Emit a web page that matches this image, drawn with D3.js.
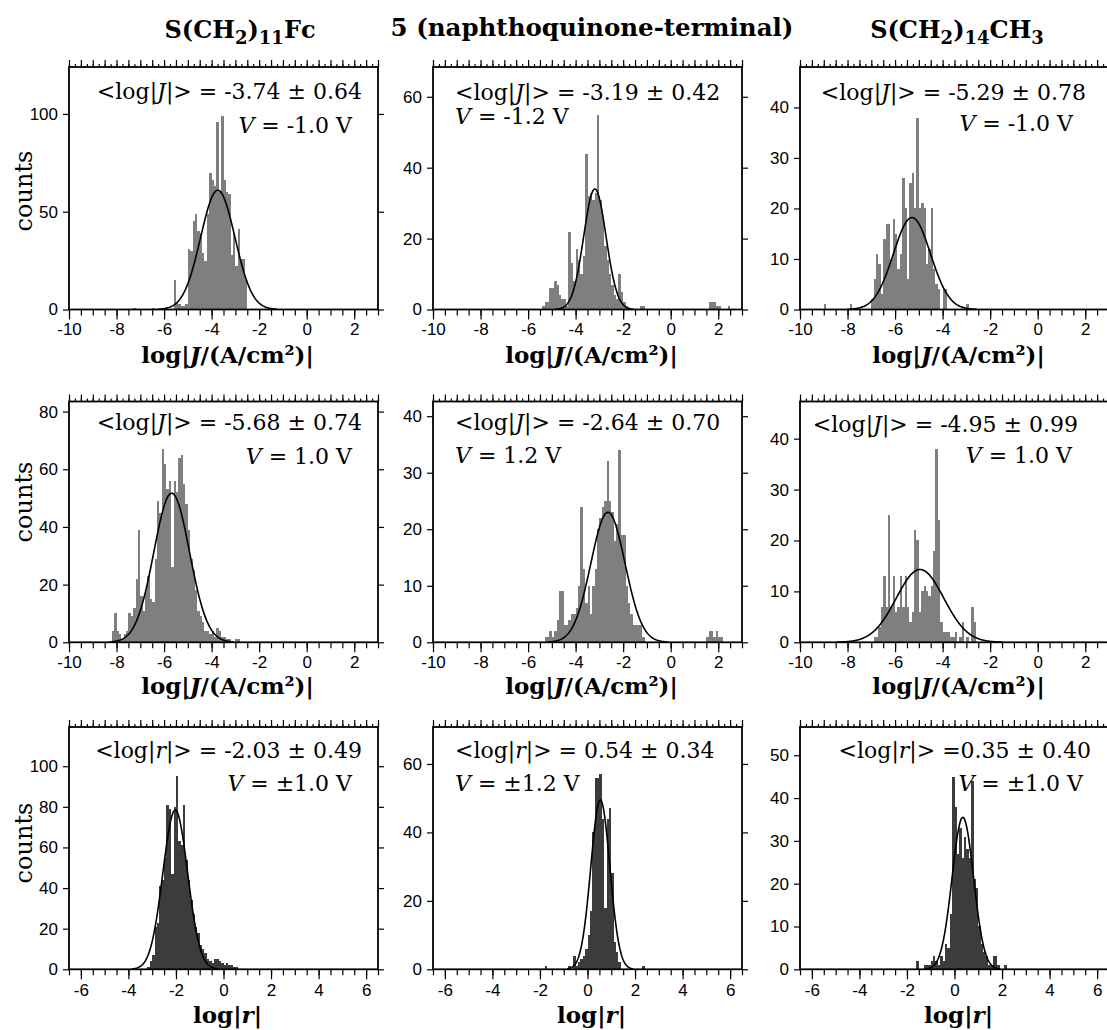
<!DOCTYPE html>
<html>
<head>
<meta charset="utf-8">
<title>log|J| and log|r| histograms</title>
<script src="https://cdn.jsdelivr.net/npm/d3@7"></script>
<style>
  body { margin: 0; background: #fff; }
</style>
</head>
<body>
<svg id="chart" width="1107" height="1030"></svg>
<script>
/* histogram bins are 0.1 wide; each counts array starts at the given left edge */
var binWidth = 0.1;

/* top row: log|J| at negative bias */
var fcNegStart = -7.3;
var fcNegCounts = [1,0,0,0,0,0,0,0,1,0,0,0,0,0,0,0,0,15,4,3,2,2,3,
  31,30,45,49,40,39,29,25,49,70,66,63,96,60,99,66,60,59,28,39,22,41,26,26,15];

var nqNegStart = -5.4;
var nqNegCounts = [1,2,2,6,6,8,7,4,3,3,1,22,13,8,17,14,10,15,44,32,33,31,33,55,31,26,18,14,10,7,4,3,10,5,2,1,
  0,0,0,0,0,1,1,
  0,0,0,0,0,0,0,0,0,0,0,0,0,0,0,0,0,0,0,0,0,0,0,0,0,0,0,
  2,2,2,1,1,0,0,0,1];

var c15NegStart = -9.0;
var c15NegCounts = [1,0,0,0,0,0,0,0,0,0,0,1,0,0,0,0,0,0,0,0,
  2,6,11,9,3,14,17,17,10,18,15,8,11,26,20,6,25,27,20,38,20,21,20,9,12,20,8,5,4,0,4,4,
  0,0,0,0,0,0,0,0,1];

/* middle row: log|J| at positive bias */
var fcPosStart = -8.2;
var fcPosCounts = [4,10,4,3,1,3,4,10,9,12,22,39,16,11,18,23,15,14,29,49,45,67,62,53,56,26,
  56,52,64,65,55,48,39,29,25,18,11,9,7,4,4,3,4,2,5,4,2,2,1,1,0,0,1,1];

var nqPosStart = -5.3;
var nqPosCounts = [1,1,2,1,2,4,9,9,3,3,4,5,5,6,10,24,13,7,10,5,10,13,20,22,24,25,32,25,23,18,21,34,19,19,10,7,5,3,3,3,3,1,
  0,0,0,0,0,0,0,0,0,0,0,0,0,0,0,0,0,0,0,0,0,0,0,0,0,0,
  1,2,2,1,2,1,1];

var c15PosStart = -6.9;
var c15PosCounts = [1,1,3,7,13,7,25,7,13,6,7,13,7,13,7,4,6,22,20,6,10,11,10,9,11,18,38,24,
  4,2,2,2,1,1,2,0,1,4,0,1,0,7,4];

/* bottom row: log|r| */
var fcRectStart = -3.2;
var fcRectCounts = [1,4,7,21,23,41,44,55,81,79,47,80,95,63,61,81,54,44,34,27,21,18,12,10,8,5,4,3,5,5,4,3,2,3,2,2,1,1];

var nqRectStart = -1.8;
var nqRectCounts = [1,0,0,0,0,0,0,0,0,0,1,0,4,1,2,3,4,6,10,17,40,56,56,57,44,18,44,47,28,8,5,2,
  0,0,0,0,0,0,0,0,0,1];

var c15RectStart = -1.6;
var c15RectCounts = [2,0,0,1,1,1,2,3,2,1,3,2,6,5,13,45,38,27,33,26,31,28,26,44,21,19,10,6,4,3,1,1,3,3,1,0,0,1];

/* gaussian fit curves */
var fitMeans  = [-3.74, -3.19, -5.29, -5.68, -2.64, -4.95, -2.03, 0.54, 0.35];
var fitSigmas = [0.72, 0.47, 0.78, 0.75, 0.72, 1.0, 0.52, 0.40, 0.45];
var fitPeaks  = [61, 34, 18.2, 51.7, 23, 14.3, 78.4, 49.5, 35.5];

/* annotation text */
var statTexts = ["= -3.74 ± 0.64", "= -3.19 ± 0.42", "= -5.29 ± 0.78",
                 "= -5.68 ± 0.74", "= -2.64 ± 0.70", "= -4.95 ± 0.99",
                 "= -2.03 ± 0.49", "= 0.54 ± 0.34", "=0.35 ± 0.40"];
var biasTexts = ["-1.0", "-1.2", "-1.0", "1.0", "1.2", "1.0", "±1.0", "±1.2", "±1.0"];

/* axes */
var countMax = [124, 68.4, 48, 83.5, 42.6, 47.3, 119.3, 70.8, 56.6];
var countTicks = [[0,50,100],[0,20,40,60],[0,10,20,30,40],
                  [0,20,40,60,80],[0,10,20,30,40],[0,10,20,30,40],
                  [0,20,40,60,80,100],[0,20,40,60],[0,10,20,30,40,50]];
var jTicks = [-10,-8,-6,-4,-2,0,2];
var rTicks = [-6,-4,-2,0,2,4,6];

/* column titles as [text, isSubscript] pieces */
var titleFc  = [["S(CH",0],["2",1],[")",0],["11",1],["Fc",0]];
var titleNq  = [["5 (naphthoquinone-terminal)",0]];
var titleC15 = [["S(CH",0],["2",1],[")",0],["14",1],["CH",0],["3",1]];

/* ---------- layout ---------- */
var colLeft = [69, 433, 800];
var plotW = 309;
var rowTop = [67, 401.5, 727];
var rowBottom = [309.5, 642.3, 969.3];
var tickLabelY = [25, 26, 27];
var axisTitleY = [53.5, 52, 54];
var countsY = [191, 502, 843];
// [anchor, dx line1, dy line1, dx line2, dy line2] from panel top-left
var notePos = [["end",293,32,283,66], ["start",22,33,22,57], ["end",286,33,273,64],
               ["end",293,28.5,283,62.5], ["start",22,28.5,22,61.5], ["end",278,30.5,272,61.5],
               ["end",293,31,283,64], ["start",22,31,22,64], ["end",291,31,283,64]];

var serif = "'DejaVu Serif', serif";
var sans = "'Liberation Sans', Arial, sans-serif";

var svg = d3.select("#chart");

var starts = [fcNegStart, nqNegStart, c15NegStart, fcPosStart, nqPosStart, c15PosStart,
              fcRectStart, nqRectStart, c15RectStart];
var counts = [fcNegCounts, nqNegCounts, c15NegCounts, fcPosCounts, nqPosCounts, c15PosCounts,
              fcRectCounts, nqRectCounts, c15RectCounts];

function drawPanel(i) {
  var row = Math.floor(i / 3), col = i % 3;
  var left = colLeft[col], right = left + plotW;
  var top = rowTop[row], bottom = rowBottom[row];
  var isR = row === 2;

  var x = d3.scaleLinear().domain(isR ? [-6.5, 6.5] : [-10, 3]).range([left, right]);
  var y = d3.scaleLinear().domain([0, countMax[i]]).range([bottom, top]);
  var g = svg.append("g");

  // bars
  var bins = counts[i].map(function(c, k) {
    return { x0: starts[i] + k * binWidth, c: c };
  }).filter(function(d) { return d.c > 0; });

  g.selectAll("rect.bar").data(bins).enter().append("rect")
    .attr("class", "bar")
    .attr("x", function(d) { return x(d.x0); })
    .attr("width", function(d) { return x(d.x0 + binWidth) - x(d.x0); })
    .attr("y", function(d) { return y(d.c); })
    .attr("height", function(d) { return y(0) - y(d.c); })
    .attr("fill", isR ? "#3c3c3c" : "#7f7f7f")
    .attr("shape-rendering", "crispEdges");

  // gaussian fit
  var m = fitMeans[i], s = fitSigmas[i], p = fitPeaks[i];
  var xs = d3.range(m - 3.5 * s, m + 3.5 * s, 0.02);
  var line = d3.line()
    .x(function(v) { return x(v); })
    .y(function(v) { return y(p * Math.exp(-0.5 * Math.pow((v - m) / s, 2))); });
  g.append("path").datum(xs)
    .attr("d", line)
    .attr("fill", "none")
    .attr("stroke", "#000")
    .attr("stroke-width", 1.6);

  // frame
  g.append("rect")
    .attr("x", left).attr("y", top)
    .attr("width", plotW).attr("height", bottom - top)
    .attr("fill", "none").attr("stroke", "#000").attr("stroke-width", 1.8);

  var lo = x.domain()[0], hi = x.domain()[1];
  var majors = isR ? rTicks : jTicks;

  function styleAxis(a) {
    a.select(".domain").remove();
    a.selectAll("line").attr("stroke", "#000").attr("stroke-width", 1.2);
    a.attr("font-family", sans).attr("font-size", 17);
  }

  // bottom: minor every 0.5, major labelled every 2
  g.append("g").attr("transform", "translate(0," + bottom + ")")
    .call(d3.axisBottom(x).tickValues(d3.range(lo, hi + 0.01, 0.5)).tickSize(6).tickFormat(""))
    .call(styleAxis);
  var bx = g.append("g").attr("transform", "translate(0," + bottom + ")")
    .call(d3.axisBottom(x).tickValues(majors).tickSize(10)
      .tickFormat(function(d) { return String(d); }))
    .call(styleAxis);
  bx.selectAll("text").attr("y", tickLabelY[row]).attr("dy", 0);

  // top: ticks every 0.25, taller on the half units
  g.append("g").attr("transform", "translate(0," + top + ")")
    .call(d3.axisTop(x).tickValues(d3.range(lo, hi + 0.01, 0.25)).tickSize(3).tickFormat(""))
    .call(styleAxis);
  g.append("g").attr("transform", "translate(0," + top + ")")
    .call(d3.axisTop(x).tickValues(d3.range(lo, hi + 0.01, 0.5)).tickSize(7).tickFormat(""))
    .call(styleAxis);

  // left and right
  g.append("g").attr("transform", "translate(" + left + ",0)")
    .call(d3.axisLeft(y).tickValues(countTicks[i]).tickSize(6).tickPadding(5))
    .call(styleAxis);
  g.append("g").attr("transform", "translate(" + right + ",0)")
    .call(d3.axisRight(y).tickValues(countTicks[i]).tickSize(6).tickFormat(""))
    .call(styleAxis);

  // x axis title
  var xt = g.append("text")
    .attr("x", (left + right) / 2 + 4)
    .attr("y", bottom + axisTitleY[row])
    .attr("text-anchor", "middle")
    .attr("font-family", serif).attr("font-weight", "bold").attr("font-size", 23);
  xt.append("tspan").text("log|");
  xt.append("tspan").attr("font-style", "italic").text(isR ? "r" : "J");
  xt.append("tspan").text(isR ? "|" : "/(A/cm²)|");

  // counts label
  if (col === 0) {
    g.append("text")
      .attr("transform", "translate(32," + countsY[row] + ") rotate(-90)")
      .attr("text-anchor", "middle")
      .attr("font-family", serif).attr("font-size", 24)
      .text("counts");
  }

  // annotation
  var np = notePos[i];
  var t1 = g.append("text")
    .attr("x", left + np[1]).attr("y", top + np[2])
    .attr("text-anchor", np[0])
    .attr("font-family", serif).attr("font-size", 22);
  t1.append("tspan").text("<log|");
  t1.append("tspan").attr("font-style", "italic").text(isR ? "r" : "J");
  t1.append("tspan").text("|> " + statTexts[i]);

  var t2 = g.append("text")
    .attr("x", left + np[3]).attr("y", top + np[4])
    .attr("text-anchor", np[0])
    .attr("font-family", serif).attr("font-size", 22);
  t2.append("tspan").attr("font-style", "italic").text("V");
  t2.append("tspan").text(" = " + biasTexts[i] + " V");
}

for (var i = 0; i < 9; i++) drawPanel(i);

// column titles
var titles = [titleFc, titleNq, titleC15];
var titleX = [240, 592, 957];
var titleY = [38, 36, 38];
var titleSize = [24, 24.5, 24];
titles.forEach(function(pieces, c) {
  var t = svg.append("text")
    .attr("x", titleX[c]).attr("y", titleY[c])
    .attr("text-anchor", "middle")
    .attr("font-family", serif).attr("font-weight", "bold").attr("font-size", titleSize[c]);
  var shifted = false;
  pieces.forEach(function(pc) {
    var sp = t.append("tspan").text(pc[0]);
    if (pc[1] && !shifted) { sp.attr("dy", 6).attr("font-size", 18); shifted = true; }
    else if (pc[1]) { sp.attr("font-size", 18); }
    else if (shifted) { sp.attr("dy", -6); shifted = false; }
  });
});
</script>
</body>
</html>
